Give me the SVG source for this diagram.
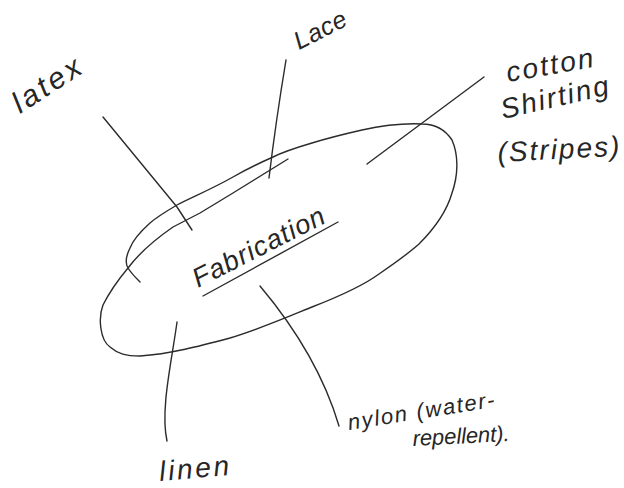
<svg xmlns="http://www.w3.org/2000/svg" width="624" height="488" viewBox="0 0 624 488">
<style>
.ink{fill:none;stroke:#2b2b2b;stroke-width:1.4;stroke-linecap:round;stroke-linejoin:round}
.hw{font-family:"Liberation Sans","DejaVu Sans",sans-serif;font-style:italic;fill:#262626}
</style>
<rect width="624" height="488" fill="#ffffff"/>
<g id="connectors">
<path class="ink" d="M103,117 L177,207 L192,230"/>
<path class="ink" d="M286,60 Q276,120 269,178"/>
<path class="ink" d="M484,77 L367,164"/>
<path class="ink" d="M177,322 C172,360 160,410 167,441"/>
<path class="ink" d="M260,286 Q318,355 339,426"/>
</g>
<g id="fabrication">
<path class="ink" d="M288,159 L233,193 L200,213 L173,227 C160,236 140,252 128,268 C118,280 108,295 103,305 C98,318 100,340 110,347 C118,354 126,356 140,356 C170,354 200,346 230,338 C260,329 290,316 312,307 C330,300 360,288 379,274 C395,263 410,252 419,244 C430,233 446,214 452,193 C458,176 459,156 452,140 C444,128 432,124 422,124 C400,123 380,126 362,130 C340,135 325,139 312,143 C295,148 283,152 273,157 C255,165 245,170 233,177 C210,190 190,198 177,205 C165,212 157,217 150,223 C140,232 133,240 130,248 C126,256 125,263 128,268 C131,273 135,277 140,282"/>
<text class="hw" x="198" y="288" font-size="27" textLength="145" lengthAdjust="spacing" transform="rotate(-27 198 288)">Fabrication</text>
<line class="ink" x1="203" y1="296" x2="338" y2="222"/>
</g>
<g id="latex">
<text class="hw" x="20" y="114" font-size="30" textLength="76" lengthAdjust="spacing" transform="rotate(-33 20 114)">latex</text>
</g>
<g id="lace">
<text class="hw" x="299" y="50" font-size="25" textLength="56" lengthAdjust="spacing" transform="rotate(-27 299 50)">Lace</text>
</g>
<g id="cotton">
<text class="hw" x="508" y="82" font-size="28" textLength="88" lengthAdjust="spacing" transform="rotate(-10 508 82)">cotton</text>
<text class="hw" x="503" y="119" font-size="28" textLength="110" lengthAdjust="spacing" transform="rotate(-13 503 119)">Shirting</text>
<text class="hw" x="498" y="162" font-size="28" textLength="122" lengthAdjust="spacing" transform="rotate(-3 498 162)">(Stripes)</text>
</g>
<g id="linen">
<text class="hw" x="160" y="481" font-size="28" textLength="70" lengthAdjust="spacing" transform="rotate(-5 160 481)">linen</text>
</g>
<g id="nylon">
<text class="hw" x="349" y="430" font-size="22" textLength="148" lengthAdjust="spacing" transform="rotate(-9 349 430)">nylon (water-</text>
<text class="hw" x="413" y="446" font-size="22" textLength="97" lengthAdjust="spacing" transform="rotate(-3 413 446)">repellent).</text>
</g>
</svg>
